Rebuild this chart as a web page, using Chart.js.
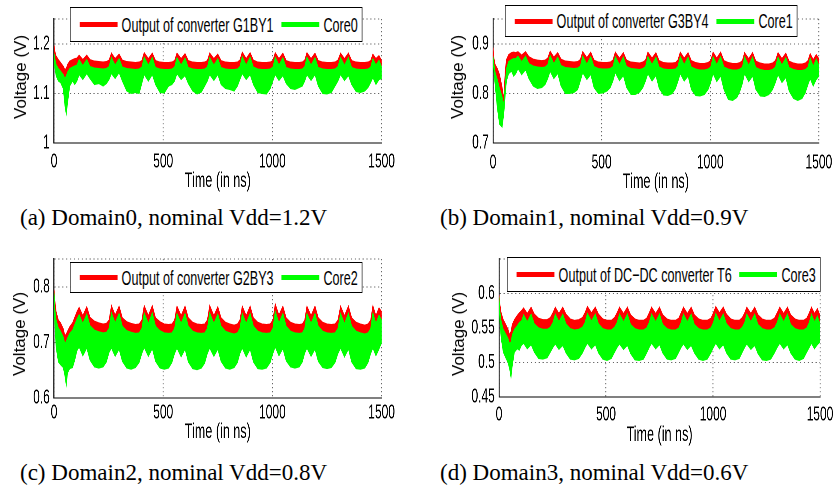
<!DOCTYPE html>
<html><head><meta charset="utf-8">
<script src="https://cdn.jsdelivr.net/npm/chart.js@4.4.1/dist/chart.umd.min.js"></script>
<style>
body{margin:0;background:#fff;width:837px;height:494px;position:relative;overflow:hidden;font-family:"Liberation Sans",Arial,sans-serif;color:#000}
.sq{position:absolute;transform:scaleX(0.6);transform-origin:0 0}
.sq canvas{position:absolute;left:0;top:0}
.leg{position:absolute;border:1px solid #000;border-left-width:1.7px;border-right-width:1.7px;background:#fff;display:flex;align-items:center;box-sizing:border-box;font-size:21px;white-space:nowrap;padding-left:15px;padding-right:7px}
.sw{height:5px;width:63px;flex:none}
.gap1{width:7px;flex:none}.gap2{width:13px;flex:none}
.ytitle{position:absolute;font-size:17px;transform:translate(-50%,-50%) rotate(-90deg);white-space:nowrap}
.cap{position:absolute;font-family:"Liberation Serif",serif;font-size:23px;white-space:nowrap;line-height:26px}
</style></head>
<body>
<script>
// ---- data ----
const timeNs = [0,4,10,20,30,42,50,56,62,72,85,95,105,
115,132,150,165,185,205,225,240,252,
263,280,298,313,333,353,373,390,402,
413,432,450,465,485,505,525,540,552,
563,582,600,615,635,655,675,690,702,
713,732,750,765,785,805,825,840,851,
862,880,898,913,933,953,973,990,1002,
1013,1030,1048,1063,1083,1103,1123,1137,1148,
1158,1177,1195,1210,1230,1250,1270,1287,1300,
1312,1330,1348,1363,1383,1403,1423,1438,1450,
1460,1474,1488,1500];
const xTicks = [0,500,1000,1500];

// Domain0
const redTopA = [1.197,1.185,1.175,1.168,1.162,1.155,1.148,1.150,1.158,1.165,1.168,1.170,1.171,
1.177,1.168,1.177,1.168,1.165,1.164,1.163,1.164,1.167,
1.181,1.170,1.179,1.167,1.164,1.163,1.162,1.163,1.166,
1.182,1.170,1.181,1.166,1.163,1.162,1.162,1.163,1.166,
1.181,1.170,1.180,1.166,1.163,1.162,1.162,1.163,1.166,
1.181,1.170,1.179,1.166,1.163,1.162,1.162,1.163,1.167,
1.183,1.170,1.182,1.167,1.163,1.162,1.162,1.163,1.166,
1.182,1.170,1.181,1.166,1.163,1.162,1.162,1.163,1.167,
1.182,1.170,1.181,1.166,1.163,1.162,1.162,1.163,1.167,
1.181,1.170,1.181,1.166,1.163,1.162,1.162,1.163,1.166,
1.179,1.170,1.176,1.166];
const greenTopA = [1.180,1.170,1.158,1.150,1.145,1.138,1.130,1.135,1.143,1.150,1.153,1.155,1.157,
1.168,1.156,1.168,1.154,1.151,1.150,1.149,1.150,1.154,
1.172,1.157,1.170,1.153,1.150,1.149,1.148,1.149,1.153,
1.173,1.157,1.172,1.152,1.149,1.148,1.148,1.149,1.153,
1.172,1.157,1.171,1.152,1.149,1.148,1.148,1.149,1.153,
1.172,1.157,1.170,1.152,1.149,1.148,1.148,1.149,1.154,
1.174,1.157,1.173,1.153,1.149,1.148,1.148,1.149,1.153,
1.173,1.157,1.172,1.152,1.149,1.148,1.148,1.149,1.154,
1.173,1.157,1.172,1.152,1.149,1.148,1.148,1.149,1.154,
1.172,1.157,1.172,1.152,1.149,1.148,1.148,1.149,1.153,
1.170,1.157,1.167,1.153];
const greenBotA = [1.175,1.150,1.135,1.125,1.122,1.110,1.075,1.058,1.080,1.115,1.125,1.118,1.125,
1.138,1.128,1.140,1.130,1.118,1.120,1.115,1.120,1.128,
1.140,1.130,1.142,1.125,1.105,1.100,1.102,1.100,1.120,
1.138,1.125,1.138,1.118,1.102,1.101,1.115,1.118,1.125,
1.140,1.128,1.136,1.120,1.105,1.099,1.103,1.115,1.125,
1.138,1.126,1.138,1.118,1.110,1.108,1.105,1.115,1.128,
1.140,1.128,1.138,1.118,1.102,1.100,1.099,1.110,1.125,
1.138,1.126,1.136,1.120,1.110,1.108,1.112,1.115,1.125,
1.138,1.126,1.138,1.115,1.100,1.099,1.102,1.115,1.125,
1.138,1.126,1.136,1.118,1.104,1.102,1.105,1.112,1.122,
1.132,1.118,1.128,1.130];
const yTicksA = [1,1.1,1.2];

// Domain1
const redTopB = [0.893,0.872,0.858,0.850,0.838,0.812,0.790,0.845,0.868,0.878,0.882,0.883,0.882,
0.884,0.877,0.884,0.874,0.869,0.867,0.866,0.867,0.871,
0.885,0.873,0.882,0.869,0.865,0.864,0.863,0.864,0.868,
0.884,0.872,0.883,0.867,0.863,0.862,0.862,0.863,0.867,
0.883,0.871,0.882,0.867,0.863,0.862,0.861,0.863,0.867,
0.883,0.871,0.882,0.866,0.862,0.861,0.861,0.862,0.867,
0.883,0.871,0.882,0.866,0.862,0.860,0.860,0.862,0.866,
0.883,0.871,0.883,0.866,0.862,0.860,0.860,0.862,0.866,
0.882,0.870,0.882,0.865,0.861,0.859,0.859,0.861,0.866,
0.882,0.870,0.881,0.865,0.861,0.859,0.859,0.861,0.866,
0.880,0.868,0.878,0.870];
const greenTopB = [0.875,0.860,0.842,0.828,0.810,0.793,0.778,0.818,0.850,0.864,0.868,0.870,0.870,
0.875,0.864,0.875,0.860,0.855,0.853,0.852,0.853,0.858,
0.876,0.860,0.873,0.856,0.852,0.851,0.850,0.851,0.855,
0.875,0.859,0.874,0.854,0.850,0.849,0.849,0.850,0.854,
0.874,0.858,0.873,0.854,0.850,0.849,0.848,0.850,0.854,
0.874,0.858,0.873,0.853,0.849,0.848,0.848,0.849,0.854,
0.874,0.858,0.873,0.853,0.849,0.847,0.847,0.849,0.853,
0.874,0.858,0.874,0.853,0.849,0.847,0.847,0.849,0.853,
0.873,0.857,0.873,0.852,0.848,0.846,0.846,0.848,0.853,
0.873,0.857,0.872,0.852,0.848,0.846,0.846,0.848,0.853,
0.871,0.855,0.869,0.857];
const greenBotB = [0.870,0.845,0.815,0.770,0.738,0.732,0.760,0.795,0.825,0.840,0.845,0.835,0.840,
0.850,0.838,0.848,0.830,0.815,0.810,0.812,0.818,0.830,
0.845,0.830,0.840,0.815,0.800,0.800,0.802,0.808,0.825,
0.842,0.828,0.838,0.812,0.800,0.801,0.805,0.812,0.825,
0.842,0.826,0.836,0.812,0.798,0.798,0.803,0.812,0.825,
0.840,0.825,0.836,0.810,0.797,0.796,0.800,0.810,0.824,
0.840,0.825,0.835,0.808,0.796,0.795,0.798,0.808,0.822,
0.840,0.824,0.835,0.808,0.788,0.786,0.792,0.805,0.820,
0.840,0.824,0.835,0.808,0.795,0.794,0.798,0.808,0.822,
0.838,0.822,0.832,0.805,0.790,0.786,0.790,0.802,0.818,
0.830,0.815,0.828,0.835];
const yTicksB = [0.7,0.8,0.9];

// Domain2
const redTopC = [0.795,0.775,0.755,0.740,0.735,0.725,0.712,0.715,0.720,0.728,0.735,0.745,0.755,
0.763,0.748,0.764,0.745,0.738,0.735,0.733,0.734,0.740,
0.766,0.749,0.765,0.744,0.737,0.734,0.732,0.733,0.740,
0.766,0.748,0.766,0.744,0.737,0.733,0.732,0.733,0.740,
0.765,0.748,0.765,0.744,0.736,0.733,0.732,0.733,0.740,
0.766,0.748,0.764,0.744,0.736,0.733,0.731,0.733,0.740,
0.765,0.748,0.765,0.744,0.736,0.733,0.732,0.733,0.740,
0.769,0.749,0.765,0.744,0.736,0.733,0.732,0.733,0.740,
0.765,0.748,0.765,0.744,0.736,0.733,0.732,0.733,0.740,
0.765,0.748,0.765,0.744,0.736,0.733,0.731,0.733,0.740,
0.766,0.748,0.762,0.755];
const greenTopC = [0.790,0.760,0.740,0.726,0.720,0.710,0.698,0.702,0.708,0.716,0.722,0.732,0.742,
0.750,0.734,0.751,0.730,0.722,0.719,0.717,0.718,0.725,
0.753,0.735,0.752,0.729,0.721,0.718,0.716,0.717,0.725,
0.753,0.734,0.753,0.729,0.721,0.717,0.716,0.717,0.725,
0.752,0.734,0.752,0.729,0.720,0.717,0.716,0.717,0.725,
0.753,0.734,0.751,0.729,0.720,0.717,0.715,0.717,0.725,
0.752,0.734,0.752,0.729,0.720,0.717,0.716,0.717,0.725,
0.756,0.735,0.752,0.729,0.720,0.717,0.716,0.717,0.725,
0.752,0.734,0.752,0.729,0.720,0.717,0.716,0.717,0.725,
0.752,0.734,0.752,0.729,0.720,0.717,0.715,0.717,0.725,
0.753,0.734,0.749,0.740];
const greenBotC = [0.785,0.730,0.690,0.665,0.660,0.655,0.640,0.623,0.645,0.653,0.655,0.668,0.685,
0.692,0.676,0.690,0.668,0.656,0.654,0.656,0.665,0.682,
0.690,0.675,0.688,0.666,0.654,0.652,0.655,0.664,0.680,
0.691,0.675,0.689,0.666,0.654,0.652,0.654,0.664,0.680,
0.690,0.674,0.688,0.665,0.653,0.651,0.654,0.663,0.680,
0.690,0.675,0.688,0.666,0.654,0.652,0.655,0.664,0.680,
0.690,0.674,0.688,0.665,0.653,0.652,0.654,0.664,0.680,
0.692,0.676,0.689,0.667,0.656,0.654,0.656,0.665,0.681,
0.690,0.675,0.688,0.666,0.655,0.653,0.655,0.664,0.680,
0.690,0.674,0.688,0.665,0.653,0.652,0.654,0.664,0.680,
0.690,0.676,0.688,0.700];
const yTicksC = [0.6,0.7,0.8];

// Domain3
const redTopD = [0.598,0.585,0.572,0.562,0.556,0.548,0.540,0.545,0.555,0.562,0.568,0.572,0.575,
0.579,0.571,0.580,0.570,0.564,0.562,0.562,0.565,0.572,
0.580,0.571,0.580,0.570,0.563,0.561,0.562,0.565,0.572,
0.581,0.572,0.580,0.570,0.563,0.561,0.561,0.565,0.572,
0.580,0.571,0.580,0.569,0.563,0.561,0.561,0.564,0.572,
0.580,0.571,0.580,0.569,0.563,0.561,0.561,0.564,0.572,
0.580,0.571,0.580,0.569,0.563,0.561,0.561,0.564,0.572,
0.581,0.572,0.580,0.570,0.563,0.561,0.561,0.565,0.572,
0.580,0.571,0.580,0.569,0.563,0.561,0.561,0.564,0.572,
0.580,0.571,0.580,0.569,0.563,0.561,0.561,0.564,0.572,
0.580,0.571,0.578,0.568];
const greenTopD = [0.595,0.575,0.560,0.548,0.542,0.535,0.527,0.530,0.540,0.548,0.553,0.558,0.560,
0.569,0.559,0.570,0.556,0.550,0.548,0.548,0.551,0.558,
0.570,0.559,0.570,0.556,0.549,0.547,0.548,0.551,0.558,
0.571,0.560,0.570,0.556,0.549,0.547,0.547,0.551,0.558,
0.570,0.559,0.570,0.555,0.549,0.547,0.547,0.550,0.558,
0.570,0.559,0.570,0.555,0.549,0.547,0.547,0.550,0.558,
0.570,0.559,0.570,0.555,0.549,0.547,0.547,0.550,0.558,
0.571,0.560,0.570,0.556,0.549,0.547,0.547,0.551,0.558,
0.570,0.559,0.570,0.555,0.549,0.547,0.547,0.550,0.558,
0.570,0.559,0.570,0.555,0.549,0.547,0.547,0.550,0.558,
0.570,0.559,0.567,0.556];
const greenBotD = [0.590,0.560,0.535,0.515,0.508,0.500,0.490,0.478,0.495,0.515,0.520,0.518,0.525,
0.528,0.520,0.526,0.515,0.506,0.505,0.507,0.515,0.522,
0.527,0.519,0.525,0.514,0.505,0.504,0.506,0.514,0.522,
0.528,0.520,0.526,0.514,0.505,0.503,0.506,0.515,0.522,
0.527,0.519,0.525,0.513,0.504,0.503,0.505,0.514,0.522,
0.528,0.520,0.526,0.514,0.505,0.504,0.506,0.515,0.522,
0.527,0.519,0.525,0.514,0.505,0.503,0.505,0.514,0.522,
0.528,0.520,0.526,0.514,0.505,0.504,0.506,0.515,0.522,
0.527,0.519,0.525,0.513,0.504,0.503,0.505,0.514,0.522,
0.528,0.520,0.526,0.514,0.505,0.503,0.506,0.515,0.522,
0.528,0.520,0.526,0.530];
const yTicksD = [0.45,0.5,0.55,0.6];

const seriesNames = [
  ['Output of converter G1BY1','Core0'],
  ['Output of converter G3BY4','Core1'],
  ['Output of converter G2BY3','Core2'],
  ['Output of DC\u2212DC converter T6','Core3']
];
const captions = ['(a) Domain0, nominal Vdd=1.2V','(b) Domain1, nominal Vdd=0.9V',
                  '(c) Domain2, nominal Vdd=0.8V','(d) Domain3, nominal Vdd=0.6V'];

// ---- layout (screen px) ----
const S = 0.6;
const panels = [
  {red:redTopA, gTop:greenTopA, gBot:greenBotA, yT:yTicksA, yMin:1, yMax:1.25,
   left:0, top:0, w:418, h:200, l:54, r:382, t:5.5, b:143, tickPad:7, titlePad:6,
   leg:{x:70, y:7, h:35}, yt:{x:20.5, y:77}, cap:{x:20, y:218}},
  {red:redTopB, gTop:greenTopB, gBot:greenBotB, yT:yTicksB, yMin:0.7, yMax:0.95,
   left:420, top:0, w:417, h:200, l:73, r:401, t:5.5, b:143, tickPad:8, titlePad:5,
   leg:{x:85, y:5, h:32}, yt:{x:457.5, y:77}, cap:{x:440, y:218}},
  {red:redTopC, gTop:greenTopC, gBot:greenBotC, yT:yTicksC, yMin:0.6, yMax:0.85,
   left:0, top:240, w:418, h:210, l:54, r:382, t:16, b:158, tickPad:3, titlePad:5,
   leg:{x:70, y:22, h:31}, yt:{x:20, y:334}, cap:{x:20, y:473}},
  {red:redTopD, gTop:greenTopD, gBot:greenBotD, yT:yTicksD, yMin:0.45, yMax:0.65,
   left:420, top:240, w:417, h:210, l:79, r:400, t:14, b:157, tickPad:6, titlePad:2,
   leg:{x:87, y:17, h:35}, yt:{x:458.5, y:334}, cap:{x:440, y:473}}
];

const FONT = '"Liberation Sans", Arial, sans-serif';
const RED = '#ff0000', GREEN = '#00ff00';

panels.forEach((p, k) => {
  const cw = p.w / S;
  const box = document.createElement('div');
  box.className = 'sq';
  box.style.left = p.left + 'px'; box.style.top = p.top + 'px';
  box.style.width = cw + 'px'; box.style.height = p.h + 'px';
  document.body.appendChild(box);
  const cv = document.createElement('canvas');
  cv.width = cw; cv.height = p.h;
  box.appendChild(cv);

  // legend
  const lg = document.createElement('div');
  lg.className = 'leg';
  lg.style.left = (p.leg.x / S) + 'px'; lg.style.top = p.leg.y + 'px'; lg.style.height = p.leg.h + 'px';
  lg.innerHTML = '<span class="sw" style="background:'+RED+'"></span><span class="gap1"></span><span>'+seriesNames[k][0]+
    '</span><span class="gap2"></span><span class="sw" style="background:'+GREEN+'"></span><span class="gap1"></span><span>'+seriesNames[k][1]+'</span>';
  box.appendChild(lg);

  const yt = document.createElement('div');
  yt.className = 'ytitle'; yt.textContent = 'Voltage (V)';
  yt.style.left = p.yt.x + 'px'; yt.style.top = p.yt.y + 'px';
  document.body.appendChild(yt);

  const cap = document.createElement('div');
  cap.className = 'cap'; cap.textContent = captions[k];
  cap.style.left = p.cap.x + 'px'; cap.style.top = (p.cap.y - 13) + 'px';
  document.body.appendChild(cap);

  const pts = arr => timeNs.map((t, i) => ({x: t, y: arr[i]}));
  const gridTicks = p.yT.concat([p.yMax]);

  new Chart(cv, {
    type: 'line',
    data: { datasets: [
      {label: seriesNames[k][0], data: pts(p.red), borderColor: RED, backgroundColor: RED, borderWidth: 1.2, pointRadius: 0, fill: '+1', order: 2},
      {label: seriesNames[k][1], data: pts(p.gTop), borderColor: GREEN, backgroundColor: GREEN, borderWidth: 1.2, pointRadius: 0, fill: '+1', order: 1},
      {label: 'lower', data: pts(p.gBot), borderColor: GREEN, backgroundColor: GREEN, borderWidth: 1.2, pointRadius: 0, fill: false, order: 1}
    ]},
    options: {
      responsive: false, animation: false, devicePixelRatio: 2,
      layout: {padding: {left: 0, right: (p.w - p.r) / S, top: p.t, bottom: 0}},
      plugins: {legend: {display: false}, tooltip: {enabled: false}},
      elements: {line: {tension: 0}},
      scales: {
        x: {type: 'linear', min: 0, max: 1500,
          afterBuildTicks: s => { s.ticks = xTicks.map(v => ({value: v})); },
          afterFit: s => { s.height = p.h - p.b; },
          ticks: {font: {family: FONT, size: 20}, color: '#000', padding: p.tickPad, maxRotation: 0, autoSkip: false,
            callback: v => String(v)},
          grid: {color: 'rgba(0,0,0,0.6)', lineWidth: 1.6, drawTicks: false, tickLength: 0},
          border: {display: true, color: '#000', width: 1, dash: [1.3, 2.7]},
          title: {display: true, text: 'Time (in ns)', font: {family: FONT, size: 21}, color: '#000', padding: {top: 0, bottom: p.titlePad}}
        },
        y: {type: 'linear', min: p.yMin, max: p.yMax,
          afterBuildTicks: s => { s.ticks = gridTicks.map(v => ({value: v})); },
          afterFit: s => { s.width = p.l / S; },
          ticks: {font: {family: FONT, size: 20}, color: '#000', padding: 7, autoSkip: false,
            callback: v => (p.yT.indexOf(v) >= 0 ? String(v) : '')},
          grid: {color: 'rgba(0,0,0,0.6)', lineWidth: 1, drawTicks: false, tickLength: 0},
          border: {display: true, color: '#000', width: 1.7, dash: [2, 4.5]}
        }
      }
    }
  });
});
</script>
</body></html>
